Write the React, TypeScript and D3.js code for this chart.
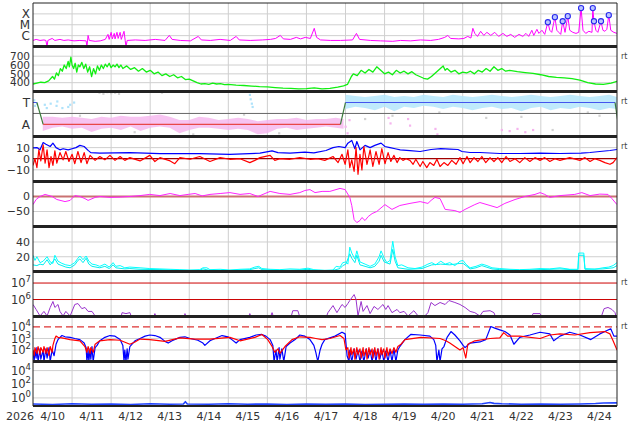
import React, { useEffect, useRef } from 'react';
import * as d3 from 'd3';

type Pt = [number, number];
type Band = [number, number, number];

// time is given in days after 2026-04-10 00:00 UTC
const START = Date.UTC(2026, 3, 10);
const DAY = 86400000;
const SPAN_DAYS = 14.95;

const yearLabel = '2026';
const dayLabels = ['4/10', '4/11', '4/12', '4/13', '4/14', '4/15', '4/16', '4/17', '4/18', '4/19', '4/20', '4/21', '4/22', '4/23', '4/24'];

// GOES X-ray flux (W/m2)
const xrayFlux: Pt[] = [
  [0, 3.6e-7], [0.08, 4.5e-7], [0.18, 3.6e-7], [0.28, 4e-7], [0.33, 3.6e-7], [0.36, 9e-8], [0.38, 3.6e-7],
  [0.49, 5.5e-7], [0.56, 3.6e-7], [0.69, 4.5e-7], [0.79, 3.6e-7], [0.9, 4e-7], [1.05, 3.3e-7], [1.2, 3.6e-7],
  [1.36, 3.3e-7], [1.38, 9e-8], [1.41, 1.05e-6], [1.44, 3.6e-7], [1.59, 3e-7], [1.72, 3.3e-7], [1.85, 4.5e-7],
  [1.92, 1.3e-6], [1.95, 4.5e-7], [2.0, 2e-6], [2.03, 5e-7], [2.08, 1.6e-6], [2.1, 5e-7], [2.15, 2e-6],
  [2.18, 5.5e-7], [2.23, 2e-6], [2.26, 4.5e-7], [2.33, 2.5e-6], [2.36, 3.6e-7], [2.38, 9e-8], [2.41, 3.6e-7],
  [2.62, 4e-7], [2.87, 3.6e-7], [3.13, 4.5e-7], [3.38, 3.6e-7], [3.49, 1.05e-6], [3.56, 4.5e-7], [3.77, 3.6e-7],
  [4.03, 3.3e-7], [4.23, 8.5e-7], [4.31, 4e-7], [4.54, 3.6e-7], [4.79, 4.5e-7], [5.05, 3.6e-7], [5.2, 8.5e-7],
  [5.28, 4e-7], [5.56, 3.6e-7], [5.87, 4e-7], [6.08, 4.5e-7], [6.21, 5.5e-7], [6.33, 1.05e-6], [6.41, 5e-7],
  [6.59, 4.5e-7], [6.74, 6.9e-7], [6.85, 5e-7], [6.97, 6.9e-7], [7.1, 5.5e-7], [7.2, 4.7e-6], [7.26, 6.9e-7],
  [7.36, 4e-7], [7.62, 3.6e-7], [7.87, 3.6e-7], [8.18, 4e-7], [8.28, 1.6e-6], [8.36, 4.5e-7], [8.64, 3.6e-7],
  [8.9, 3.3e-7], [9.21, 3e-7], [9.41, 3.6e-7], [9.67, 3.3e-7], [9.92, 4e-7], [10.18, 3.6e-7], [10.38, 4.5e-7],
  [10.54, 6.9e-7], [10.62, 1.05e-6], [10.69, 5.5e-7], [10.9, 5e-7], [11.03, 5.5e-7], [11.13, 8.5e-7], [11.21, 6e-7],
  [11.26, 4.7e-6], [11.31, 1.6e-6], [11.38, 8.5e-7], [11.46, 2.5e-6], [11.54, 1.05e-6], [11.62, 2e-6], [11.72, 1.05e-6],
  [11.82, 2e-6], [11.92, 8.5e-7], [12.03, 1.6e-6], [12.13, 8.5e-7], [12.23, 1.3e-6], [12.33, 6.9e-7], [12.44, 1.3e-6],
  [12.54, 8.5e-7], [12.62, 1.6e-6], [12.69, 8.5e-7], [12.77, 3.1e-6], [12.82, 1.05e-6], [12.9, 3.8e-6], [12.95, 1.6e-6],
  [13.03, 3.1e-6], [13.1, 1.3e-6], [13.18, 1.7e-5], [13.23, 3.1e-6], [13.28, 2e-6], [13.36, 5e-5], [13.41, 3.1e-6],
  [13.46, 2e-6], [13.51, 1.3e-6], [13.56, 2.1e-5], [13.62, 2e-6], [13.69, 6.2e-5], [13.74, 3.1e-6], [13.82, 2e-6],
  [13.9, 1.6e-6], [13.97, 2e-6], [14.03, 3.4e-4], [14.08, 3.1e-6], [14.15, 1.6e-6], [14.23, 2.5e-6], [14.31, 2e-6],
  [14.33, 3.4e-4], [14.36, 2.1e-5], [14.41, 3.1e-6], [14.46, 2e-6], [14.54, 2.1e-5], [14.59, 3.1e-6], [14.64, 2.5e-6],
  [14.69, 3.8e-6], [14.74, 7.6e-5], [14.79, 3.1e-6], [14.87, 2e-6], [14.95, 1.6e-6],
];

const flareMarks: Pt[] = [
  [13.18, 1.7e-5], [13.36, 5e-5], [13.56, 2.1e-5], [13.69, 6.2e-5], [14.03, 3.4e-4],
  [14.33, 3.4e-4], [14.36, 2.1e-5], [14.54, 2.1e-5], [14.74, 7.6e-5],
];

// solar wind speed (km/s)
const windSpeed: Pt[] = [
  [0, 385], [0.1, 395], [0.2, 405], [0.3, 400], [0.4, 420], [0.5, 470], [0.55, 440], [0.6, 510], [0.65, 480],
  [0.7, 560], [0.75, 530], [0.8, 600], [0.85, 560], [0.9, 640], [0.93, 580], [0.97, 690], [1.0, 600], [1.04, 560],
  [1.08, 620], [1.12, 520], [1.16, 600], [1.2, 580], [1.25, 630], [1.3, 560], [1.35, 610], [1.4, 520], [1.45, 580],
  [1.5, 470], [1.55, 560], [1.6, 500], [1.65, 590], [1.7, 540], [1.75, 600], [1.8, 560], [1.85, 610], [1.9, 580],
  [1.95, 620], [2.0, 570], [2.05, 600], [2.1, 580], [2.15, 610], [2.2, 570], [2.25, 600], [2.3, 560], [2.4, 590],
  [2.5, 550], [2.6, 570], [2.7, 530], [2.8, 560], [2.9, 520], [3.0, 540], [3.1, 500], [3.2, 520], [3.3, 480],
  [3.4, 500], [3.5, 470], [3.6, 490], [3.7, 455], [3.8, 470], [3.9, 435], [4.0, 440], [4.1, 420], [4.2, 400],
  [4.3, 385], [4.4, 390], [4.5, 380], [4.6, 395], [4.7, 385], [4.8, 390], [4.9, 378], [5.0, 380], [5.2, 372],
  [5.4, 368], [5.6, 362], [5.8, 355], [6.0, 352], [6.2, 345], [6.4, 338], [6.6, 335], [6.8, 330], [7.0, 332],
  [7.2, 342], [7.4, 330], [7.6, 335], [7.8, 350], [7.95, 365], [8.05, 380], [8.15, 470], [8.2, 500], [8.3, 480],
  [8.4, 540], [8.5, 510], [8.6, 550], [8.7, 520], [8.8, 580], [8.9, 540], [9.0, 500], [9.1, 520], [9.2, 490],
  [9.3, 540], [9.4, 510], [9.5, 530], [9.6, 500], [9.7, 525], [9.8, 490], [9.9, 470], [10.0, 450], [10.1, 440],
  [10.2, 470], [10.3, 510], [10.4, 550], [10.5, 590], [10.55, 540], [10.6, 560], [10.7, 520], [10.8, 540],
  [10.9, 500], [11.0, 520], [11.1, 510], [11.2, 530], [11.3, 500], [11.4, 540], [11.5, 520], [11.6, 560],
  [11.7, 530], [11.8, 580], [11.9, 540], [12.0, 560], [12.1, 530], [12.2, 540], [12.4, 525], [12.6, 515],
  [12.8, 505], [13.0, 490], [13.2, 470], [13.4, 460], [13.6, 455], [13.8, 445], [14.0, 430], [14.2, 400],
  [14.4, 385], [14.6, 380], [14.8, 395], [14.95, 415],
];

// IMF sector: +1 toward, -1 away
const sectorLine: Pt[] = [[0, 1], [0.1, 1], [0.26, -1], [7.87, -1], [8.0, 1], [14.9, 1], [14.97, -0.7]];

const awayBand: Band[] = [
  [0.25, -0.3, -1.6], [0.5, -0.3, -1.3], [0.75, -0.4, -1.2], [1.0, -0.3, -1.4], [1.25, -0.4, -1.3],
  [1.5, -0.5, -1.7], [1.75, -0.3, -1.4], [2.0, -0.4, -1.3], [2.25, -0.2, -1.5], [2.5, -0.3, -1.2],
  [2.75, -0.3, -1.6], [3.0, -0.2, -1.3], [3.25, -0.1, -1.2], [3.5, -0.3, -1.3], [3.75, -0.6, -1.8],
  [4.0, -0.6, -1.5], [4.25, -0.3, -1.3], [4.5, -0.4, -1.3], [4.75, -0.6, -1.4], [5.0, -0.5, -1.5],
  [5.25, -0.4, -1.4], [5.5, -0.5, -1.5], [5.75, -0.7, -1.9], [6.0, -0.6, -1.8], [6.25, -0.5, -1.4],
  [6.5, -0.5, -1.3], [6.75, -0.4, -1.5], [7.0, -0.6, -1.4], [7.25, -0.5, -1.3], [7.5, -0.5, -1.2],
  [7.75, -0.4, -1.3], [7.95, -0.5, -1.4],
];

const towardBand: Band[] = [
  [8.0, 1.7, 0.4], [8.25, 1.6, 0.6], [8.5, 1.5, 0.5], [8.75, 1.6, 0.3], [9.0, 1.7, 0.6], [9.25, 1.5, 0.2],
  [9.5, 1.6, 0.6], [9.75, 1.5, 0.5], [10.0, 1.7, 0.7], [10.25, 1.6, 0.6], [10.5, 1.5, 0.4], [10.75, 1.7, 0.6],
  [11.0, 1.6, 0.5], [11.25, 1.5, 0.3], [11.5, 1.6, 0.5], [11.75, 1.7, 0.6], [12.0, 1.6, 0.4], [12.25, 1.5, 0.5],
  [12.5, 1.6, 0.2], [12.75, 1.7, 0.5], [13.0, 1.6, 0.6], [13.25, 1.5, 0.3], [13.5, 1.6, 0.5], [13.75, 1.7, 0.4],
  [14.0, 1.6, 0.6], [14.25, 1.5, 0.5], [14.5, 1.6, 0.3], [14.75, 1.7, 0.5], [14.95, 1.5, 0.4],
];

const towardDots: Pt[] = [
  [0.03, 1.2], [0.05, 0.7], [0.1, 0.9], [0.3, 0.8], [0.35, 0.5], [0.45, 0.9], [0.6, 0.7], [0.62, 1.1],
  [0.75, 0.5], [0.9, 0.6], [0.95, 0.8], [1.05, 1.0], [5.55, 1.7], [5.57, 1.3], [5.6, 0.9], [5.62, 0.6],
];
const awayDots: Pt[] = [
  [8.0, -1.2], [8.05, -1.8], [8.1, -0.6], [9.1, -0.4], [9.15, -0.9], [9.6, -0.5], [9.65, -1.1],
  [10.3, -1.4], [10.35, -1.9], [12.0, -1.5], [12.2, -1.6], [12.4, -1.4], [12.6, -1.7], [12.8, -1.5],
];
const greyDots: Pt[] = [
  [1.7, 1.9], [1.8, 1.8], [1.9, 1.95], [2.0, 1.85], [2.1, 1.9], [2.2, 1.8], [3.3, 1.9], [1.2, -0.2],
  [2.6, -1.7], [4.1, -1.9], [5.4, -0.1], [6.3, -1.8], [8.5, -0.5], [9.2, -0.2], [10.4, 0.1], [11.6, -0.4],
  [12.5, -0.3], [13.3, -1.5], [14.5, -0.2], [14.2, 0.1],
];

// IMF Bt and Bz (nT)
const imfBt: Pt[] = [
  [0, 9.8], [0.1, 10], [0.18, 8], [0.26, 14.5], [0.33, 13], [0.44, 11], [0.51, 14], [0.59, 10], [0.69, 8],
  [0.77, 9], [0.9, 8], [1.0, 9], [1.1, 10], [1.2, 12], [1.31, 11], [1.41, 7.5], [1.48, 5.5], [1.71, 5],
  [2.48, 5.5], [3.25, 4.5], [4.27, 4.5], [5.04, 4], [5.81, 5], [6.12, 7], [6.27, 5.5], [6.58, 5], [6.96, 6],
  [7.19, 5.3], [7.5, 7.4], [7.68, 10], [7.83, 11], [7.99, 10], [8.06, 14], [8.16, 16.5], [8.24, 9], [8.29, 15.5],
  [8.37, 8], [8.5, 12], [8.63, 10], [8.75, 12], [8.91, 14], [9.01, 11], [9.14, 10], [9.27, 9], [9.4, 8],
  [9.65, 7.3], [9.91, 6.5], [10.19, 8.3], [10.44, 9], [10.67, 8.7], [10.88, 8.3], [10.98, 6.5], [11.19, 5.6],
  [11.44, 5.6], [11.95, 4.7], [12.46, 4.7], [12.98, 5.1], [13.49, 4.7], [14.03, 5], [14.26, 5.6], [14.51, 6.5],
  [14.77, 7.4], [14.95, 8.3],
];

const imfBz: Pt[] = [
  [0, -6], [0.05, 0], [0.1, -8], [0.15, 8], [0.2, -2], [0.26, 12.5], [0.31, -4], [0.36, 8], [0.41, -8],
  [0.46, 2], [0.51, -6], [0.56, 7], [0.61, -4], [0.69, 5.5], [0.77, -1], [0.84, 6.5], [0.92, -2.5], [1.0, 4],
  [1.07, -4.5], [1.15, 6.5], [1.23, -3.5], [1.31, 5.5], [1.38, -4.5], [1.46, 3], [1.59, -1.5], [1.71, 2],
  [1.84, -1], [1.97, 3], [2.1, -1.5], [2.23, 2], [2.35, -1.5], [2.48, 1], [2.74, -2], [2.99, 3], [3.12, -2.5],
  [3.25, 1], [3.51, -2], [3.63, -4.5], [3.76, 1], [4.02, -0.5], [4.27, 2], [4.53, -2.5], [4.79, 1], [5.04, -0.5],
  [5.3, 0], [5.55, -3.5], [5.68, -1.5], [5.81, 1], [6.07, 3], [6.19, -1.5], [6.32, 0], [6.58, -0.5], [6.83, 1],
  [7.09, -0.5], [7.29, 0], [7.47, -1.5], [7.68, 2], [7.81, -3.5], [7.91, 4], [7.99, -5], [8.06, 8], [8.11, -8],
  [8.16, -1], [8.22, -11.5], [8.27, 10], [8.32, -14], [8.37, 4], [8.42, -10], [8.47, 11], [8.55, -5], [8.63, 8],
  [8.7, -7], [8.78, 6.5], [8.86, -5], [8.93, 9], [9.01, -4.5], [9.09, 5.5], [9.16, -2.5], [9.24, 3], [9.32, -3.5],
  [9.39, 1], [9.47, -1.5], [9.55, 0], [9.65, -1.5], [9.73, -5], [9.8, -0.5], [9.91, -7], [9.98, -2.5], [10.08, -8],
  [10.16, -3.5], [10.26, -6], [10.34, -0.5], [10.42, -7], [10.52, -3.5], [10.62, -6], [10.72, -1.5], [10.83, -5],
  [10.93, 1], [11.01, -4.5], [11.11, 2], [11.19, -3.5], [11.29, 1], [11.39, -2.5], [11.49, 2], [11.59, -3.5],
  [11.7, 1], [11.8, -2.5], [11.9, 1], [12.0, -3.5], [12.11, 2], [12.21, -2.5], [12.34, 0], [12.46, -3.5],
  [12.59, 1], [12.72, -2.5], [12.85, 1], [12.98, -1.5], [13.1, 1], [13.23, -2.5], [13.36, 0], [13.49, -1.5],
  [13.74, 1], [14.0, -1.5], [14.13, 1], [14.26, -2.5], [14.38, 0], [14.51, -1.5], [14.64, -3.5], [14.77, -5],
  [14.85, -3.5], [14.95, 1],
];

// Dst index (nT)
const dstIndex: Pt[] = [
  [0, -27], [0.08, -10], [0.18, 0], [0.31, 7], [0.49, 0], [0.61, -10], [0.82, -17], [0.95, -13], [1.07, 3],
  [1.2, 0], [1.33, -7], [1.41, -13], [1.59, -3], [1.71, 0], [1.97, -3], [2.23, -2], [2.48, 0], [2.74, 3],
  [2.99, 7], [3.25, 3], [3.51, 10], [3.76, 3], [3.97, 7], [4.15, 10], [4.33, 2], [4.53, 7], [4.79, 10],
  [5.04, 13], [5.3, 7], [5.55, 10], [5.76, 0], [5.94, 10], [6.07, 17], [6.32, 10], [6.58, 7], [6.83, 13],
  [6.96, 20], [7.09, 23], [7.22, 13], [7.4, 17], [7.6, 17], [7.86, 27], [7.99, 23], [8.11, -3], [8.16, -30],
  [8.22, -77], [8.29, -87], [8.37, -80], [8.42, -70], [8.5, -80], [8.58, -67], [8.68, -57], [8.8, -50],
  [9.01, -27], [9.19, -43], [9.39, -30], [9.65, -23], [9.91, -17], [10.11, -23], [10.19, -13], [10.29, -3],
  [10.42, -7], [10.55, -43], [10.8, -47], [10.93, -53], [11.06, -43], [11.31, -27], [11.44, -20], [11.7, -30],
  [11.88, -37], [12.08, -23], [12.34, -10], [12.59, 0], [12.85, 7], [12.98, 13], [13.1, 7], [13.23, -3],
  [13.49, 3], [13.87, 7], [14.05, 13], [14.26, 3], [14.51, 8], [14.72, 7], [14.82, -7], [14.95, -27],
];

// activity index, two estimates
const activityA: Pt[] = [
  [0, 22], [0.05, 15], [0.1, 20], [0.18, 12], [0.26, 14], [0.36, 20], [0.44, 13], [0.51, 11], [0.56, 22],
  [0.64, 14], [0.74, 11], [0.84, 9], [0.95, 8], [1.07, 12], [1.15, 18], [1.2, 21], [1.28, 16], [1.36, 21],
  [1.43, 14], [1.51, 10], [1.61, 9], [1.71, 7], [1.84, 10], [1.95, 6], [2.05, 12], [2.12, 7], [2.23, 8],
  [2.35, 5], [2.48, 6], [2.74, 5], [2.99, 4], [3.25, 3.5], [3.51, 3], [3.76, 2.5], [4.02, 2], [4.27, 2.5],
  [4.35, 5], [4.45, 5], [4.53, 2.5], [4.79, 3], [5.04, 2], [5.3, 3], [5.55, 3.5], [5.68, 6], [5.78, 7],
  [5.86, 4], [6.07, 3], [6.32, 2.5], [6.58, 3.5], [6.83, 3], [7.04, 4.5], [7.19, 2.5], [7.47, 1.5], [7.68, 2],
  [7.76, 7], [7.86, 6], [7.93, 12], [8.01, 13], [8.06, 10], [8.11, 33], [8.16, 25], [8.24, 17], [8.29, 28],
  [8.37, 13], [8.5, 10], [8.63, 7], [8.75, 10], [8.86, 20], [8.91, 28], [8.99, 18], [9.06, 12], [9.14, 15],
  [9.21, 41], [9.27, 20], [9.34, 8], [9.44, 9], [9.6, 5], [9.78, 4], [9.96, 6], [10.11, 10], [10.21, 12],
  [10.31, 9], [10.44, 14], [10.55, 10], [10.67, 12], [10.8, 8], [10.93, 14], [11.01, 15], [11.08, 10],
  [11.19, 5], [11.34, 7], [11.49, 10], [11.62, 8], [11.75, 5], [11.95, 4], [12.21, 3], [12.46, 2.5],
  [12.72, 3], [12.98, 4], [13.23, 3.5], [13.49, 5], [13.74, 3], [13.95, 3], [13.97, 25], [14.1, 25],
  [14.13, 4], [14.38, 3], [14.59, 5], [14.74, 6], [14.85, 8], [14.95, 12],
];
const activityB: Pt[] = [
  [0, 9], [0.1, 8], [0.18, 10], [0.26, 9], [0.36, 16], [0.44, 9], [0.56, 17], [0.64, 10], [0.74, 8],
  [0.84, 6], [0.95, 5], [1.07, 9], [1.15, 15], [1.2, 17], [1.28, 12], [1.36, 18], [1.43, 10], [1.51, 7],
  [1.71, 5], [1.84, 7], [1.95, 4], [2.05, 9], [2.12, 5], [2.35, 3.5], [2.48, 4], [2.74, 3], [3.25, 2.5],
  [3.76, 1.5], [4.27, 1.5], [4.35, 3.5], [4.53, 1.5], [5.04, 1.5], [5.55, 2.5], [5.68, 4], [5.78, 5],
  [5.86, 2.5], [6.32, 1.5], [6.83, 2], [7.04, 3], [7.19, 1.5], [7.68, 1.5], [7.86, 4], [7.93, 8], [8.01, 10],
  [8.11, 24], [8.16, 18], [8.24, 12], [8.29, 22], [8.37, 9], [8.5, 7], [8.63, 5], [8.75, 7], [8.86, 14],
  [8.91, 22], [8.99, 13], [9.14, 10], [9.21, 30], [9.27, 14], [9.34, 5], [9.6, 3], [9.96, 4], [10.11, 7],
  [10.21, 9], [10.44, 10], [10.67, 9], [10.93, 11], [11.01, 11], [11.19, 3.5], [11.34, 5], [11.49, 8],
  [11.75, 3.5], [11.95, 2.5], [12.46, 1.5], [12.98, 2.5], [13.49, 3.5], [13.95, 2], [13.97, 22], [14.1, 22],
  [14.13, 3], [14.59, 3.5], [14.85, 5], [14.95, 8],
];

// electron fluence
const fluence: Pt[] = [
  [0, 5e5], [0.08, 2.5e5], [0.18, 1e5], [0.28, 1.9e5], [0.36, 1e5], [0.44, 3.3e5], [0.51, 7.6e5], [0.56, 3.3e5],
  [0.64, 5e5], [0.69, 1.9e5], [0.77, 1e5], [0.84, 1.9e5], [0.95, 1e5], [1.07, 5e5], [1.15, 5.7e5], [1.25, 2.8e5],
  [1.33, 3.3e5], [1.41, 1.9e5], [1.51, 1.9e5], [1.59, 1e5], [1.66, 5e4], [2.23, 5e4], [2.28, 1.6e5], [2.38, 1.4e5],
  [2.48, 1.6e5], [2.56, 5e4], [3.05, 5e4], [3.12, 1.4e5], [3.2, 5e4], [3.84, 5e4], [3.89, 1.4e5], [3.97, 5e4],
  [5.48, 5e4], [5.55, 1.4e5], [5.63, 5e4], [6.04, 5e4], [6.12, 1.6e5], [6.19, 5e4], [6.58, 5e4], [6.65, 2.1e5],
  [6.78, 2.1e5], [6.86, 5e4], [7.47, 5e4], [7.55, 1.6e5], [7.68, 4.3e5], [7.78, 1.6e5], [7.91, 5e5], [7.99, 3.3e5],
  [8.06, 5.7e5], [8.11, 8.7e5], [8.22, 2e6], [8.27, 1e6], [8.32, 1e5], [8.4, 7.6e5], [8.45, 1.9e5], [8.55, 4.3e5],
  [8.63, 1.4e5], [8.73, 3.8e5], [8.83, 2.5e5], [8.96, 5e5], [9.03, 2.5e5], [9.09, 4.3e5], [9.19, 1.6e5],
  [9.32, 2.5e5], [9.39, 1.6e5], [9.5, 1.9e5], [9.6, 1e5], [9.75, 2.1e5], [9.86, 1e5], [10.03, 1e5], [10.11, 1.6e5],
  [10.19, 6.6e5], [10.29, 4.3e5], [10.42, 6.6e5], [10.55, 5e5], [10.65, 8.7e5], [10.8, 6.6e5], [10.93, 5e5],
  [11.06, 3.3e5], [11.19, 1.9e5], [11.31, 1.6e5], [11.44, 1e5], [11.52, 1.9e5], [11.7, 2.1e5], [11.8, 1.6e5],
  [11.88, 5e4], [12.72, 5e4], [12.8, 1.4e5], [12.98, 1.4e5], [13.1, 5e4], [14.51, 5e4], [14.62, 2.8e5],
  [14.72, 3.3e5], [14.82, 2.5e5], [14.9, 1.6e5], [14.95, 5e4],
];

// electron flux, two energy channels
const electronBlue: Pt[] = [
  [0, 63], [0.03, 10], [0.05, 100], [0.08, 20], [0.1, 160], [0.13, 10], [0.18, 126], [0.2, 16], [0.26, 100],
  [0.28, 10], [0.33, 126], [0.36, 20], [0.41, 160], [0.44, 10], [0.49, 100], [0.54, 32], [0.59, 316], [0.64, 800],
  [0.69, 1260], [0.74, 1800], [0.82, 1400], [0.95, 1260], [1.07, 1000], [1.2, 800], [1.31, 400], [1.36, 160],
  [1.38, 10], [1.41, 100], [1.43, 10], [1.46, 126], [1.48, 16], [1.51, 200], [1.54, 10], [1.59, 160], [1.64, 250],
  [1.71, 630], [1.84, 1260], [1.97, 1800], [2.1, 1600], [2.23, 800], [2.3, 250], [2.33, 10], [2.35, 100],
  [2.38, 10], [2.41, 126], [2.43, 16], [2.48, 200], [2.61, 630], [2.74, 1000], [2.87, 1600], [2.99, 2000],
  [3.12, 1800], [3.25, 1260], [3.38, 560], [3.46, 400], [3.56, 630], [3.76, 1260], [3.89, 1400], [4.02, 1000],
  [4.22, 700], [4.35, 400], [4.4, 250], [4.53, 630], [4.66, 1000], [4.84, 1800], [4.99, 1400], [5.09, 800],
  [5.2, 400], [5.3, 800], [5.55, 1260], [5.71, 2000], [5.86, 2240], [5.96, 1600], [6.07, 800], [6.14, 250],
  [6.17, 10], [6.22, 100], [6.25, 10], [6.3, 160], [6.32, 16], [6.37, 126], [6.42, 10], [6.48, 200], [6.58, 400],
  [6.71, 800], [6.83, 2000], [6.96, 1600], [7.09, 800], [7.19, 250], [7.24, 63], [7.29, 10], [7.35, 100],
  [7.4, 316], [7.47, 800], [7.73, 1600], [7.91, 3500], [7.99, 2500], [8.04, 32], [8.09, 10], [8.11, 100],
  [8.16, 10], [8.22, 126], [8.27, 16], [8.32, 100], [8.37, 10], [8.42, 80], [8.47, 10], [8.53, 126], [8.58, 20],
  [8.63, 100], [8.68, 10], [8.73, 100], [8.78, 10], [8.83, 126], [8.88, 16], [8.93, 100], [8.98, 10], [9.03, 80],
  [9.09, 10], [9.14, 100], [9.19, 10], [9.24, 126], [9.29, 10], [9.34, 100], [9.39, 200], [9.52, 800],
  [9.67, 2240], [9.91, 2000], [10.16, 1600], [10.26, 800], [10.31, 250], [10.34, 10], [10.39, 100], [10.42, 10],
  [10.47, 126], [10.52, 200], [10.6, 1260], [10.7, 4000], [10.8, 2000], [10.93, 630], [11.01, 250], [11.06, 160],
  [11.19, 400], [11.44, 500], [11.59, 800], [11.72, 11000], [11.82, 8000], [11.95, 5600], [12.08, 4000],
  [12.21, 2000], [12.31, 316], [12.46, 1260], [12.72, 2000], [12.98, 3500], [13.23, 2500], [13.33, 630],
  [13.49, 1600], [13.74, 3500], [14.0, 2000], [14.28, 800], [14.51, 2500], [14.79, 7000], [14.87, 1600],
  [14.95, 1600],
];
const electronRed: Pt[] = [
  [0, 100], [0.03, 32], [0.05, 160], [0.1, 50], [0.13, 200], [0.18, 40], [0.2, 160], [0.26, 63], [0.28, 200],
  [0.33, 50], [0.36, 160], [0.41, 32], [0.44, 200], [0.49, 63], [0.51, 250], [0.56, 1000], [0.59, 1600],
  [0.64, 1260], [0.74, 1120], [0.95, 800], [1.2, 630], [1.33, 200], [1.38, 63], [1.41, 200], [1.46, 50],
  [1.48, 160], [1.54, 63], [1.59, 316], [1.71, 630], [1.97, 800], [2.23, 700], [2.48, 316], [2.61, 500],
  [2.74, 890], [2.99, 800], [3.38, 560], [3.76, 1120], [4.15, 890], [4.53, 890], [5.04, 1260], [5.3, 630],
  [5.68, 1260], [5.86, 2240], [6.01, 800], [6.12, 200], [6.19, 63], [6.27, 126], [6.32, 50], [6.45, 200],
  [6.63, 800], [6.83, 1400], [7.09, 1260], [7.24, 1000], [7.4, 800], [7.6, 1000], [7.86, 1800], [7.96, 1000],
  [8.01, 100], [8.06, 160], [8.09, 20], [8.14, 160], [8.16, 40], [8.22, 126], [8.24, 16], [8.29, 160], [8.32, 40],
  [8.37, 126], [8.4, 20], [8.45, 160], [8.47, 32], [8.53, 126], [8.55, 16], [8.6, 160], [8.63, 40], [8.68, 126],
  [8.7, 20], [8.75, 160], [8.78, 32], [8.83, 126], [8.86, 16], [8.91, 160], [8.93, 40], [8.98, 126], [9.01, 20],
  [9.06, 160], [9.09, 32], [9.14, 126], [9.19, 50], [9.24, 160], [9.29, 63], [9.34, 200], [9.42, 316], [9.52, 800],
  [9.93, 1260], [10.42, 1000], [10.57, 630], [10.67, 400], [10.8, 200], [10.93, 100], [11.01, 160], [11.08, 20],
  [11.13, 316], [11.31, 630], [11.7, 1000], [11.95, 1120], [12.05, 3200], [12.15, 1600], [12.46, 1600],
  [12.98, 1000], [13.23, 2000], [13.49, 2500], [13.87, 2000], [14.26, 3200], [14.64, 4000], [14.77, 2500],
  [14.85, 630], [14.95, 100],
];

// proton flux
const protonFlux: Pt[] = [
  [0, 0.13], [0.5, 0.11], [1, 0.14], [1.5, 0.12], [2, 0.13], [2.5, 0.11], [3, 0.14], [3.5, 0.12], [3.85, 0.13],
  [3.9, 0.28], [3.95, 0.13], [4.5, 0.12], [5, 0.14], [5.5, 0.12], [6, 0.13], [6.5, 0.11], [7, 0.13], [7.5, 0.12],
  [8, 0.13], [8.5, 0.11], [9, 0.12], [9.5, 0.13], [10, 0.12], [10.5, 0.13], [11, 0.12], [11.5, 0.14], [11.7, 0.22],
  [11.8, 0.16], [12, 0.14], [12.5, 0.12], [13, 0.13], [13.5, 0.12], [14, 0.13], [14.4, 0.15], [14.6, 0.18],
  [14.95, 0.19],
];

const W = 634;
const H = 424;
const LEFT = 33;
const RIGHT = 617;
const edges = [3, 46.5, 91.5, 136.5, 181.5, 226.5, 271.5, 316.5, 361.5, 406];
const FONT = '"DejaVu Sans", Verdana, sans-serif';

const App: React.FC = () => {
  const svgRef = useRef<SVGSVGElement>(null);

  useEffect(() => {
    if (!svgRef.current) return;
    const svg = d3.select(svgRef.current);
    svg.selectAll('*').remove();

    const x = d3.scaleUtc()
      .domain([new Date(START), new Date(START + SPAN_DAYS * DAY)])
      .range([LEFT, RIGHT]);
    const xd = (d: number) => x(new Date(START + d * DAY));

    const band = (i: number): [number, number] => [edges[i + 1], edges[i]];
    const yX = d3.scaleLog().domain([1e-7, 1e-3]).range(band(0));
    const ySpeed = d3.scaleLinear().domain([300, 810]).range(band(1));
    const ySector = d3.scaleLinear().domain([-2.1, 2]).range(band(2));
    const yImf = d3.scaleLinear().domain([-20.5, 20]).range(band(3));
    const yDst = d3.scaleLinear().domain([-100, 50]).range(band(4));
    const yAct = d3.scaleLinear().domain([0, 61]).range(band(5));
    const yFlu = d3.scaleLog().domain([Math.pow(10, 4.97), Math.pow(10, 7.7)]).range(band(6));
    const yEle = d3.scaleLog().domain([10, Math.pow(10, 4.91)]).range(band(7));
    const yPro = d3.scaleLog().domain([Math.pow(10, -1.18), Math.pow(10, 5.33)]).range(band(8));

    // clip paths, one per panel
    const defs = svg.append('defs');
    edges.slice(0, -1).forEach((top, i) => {
      defs.append('clipPath').attr('id', `clip${i}`)
        .append('rect')
        .attr('x', LEFT).attr('y', top)
        .attr('width', RIGHT - LEFT).attr('height', edges[i + 1] - top);
    });

    const grid = svg.append('g').attr('stroke', '#cfcfcf').attr('stroke-width', 1);
    // day grid
    d3.range(1, 15).forEach(d => {
      grid.append('line')
        .attr('x1', xd(d)).attr('x2', xd(d))
        .attr('y1', edges[0]).attr('y2', edges[9]);
    });

    const hline = (y: number, color = '#cfcfcf', width = 1) => {
      svg.append('line')
        .attr('x1', LEFT).attr('x2', RIGHT)
        .attr('y1', y).attr('y2', y)
        .attr('stroke', color).attr('stroke-width', width);
    };

    [1e-6, 1e-5, 1e-4].forEach(v => hline(yX(v)));
    [400, 500, 600, 700].forEach(v => hline(ySpeed(v)));
    [10, -10].forEach(v => hline(yImf(v)));
    hline(yDst(-50));
    [20, 40].forEach(v => hline(yAct(v)));
    [1e2, 1e3].forEach(v => hline(yEle(v)));
    [1, 1e2, 1e4].forEach(v => hline(yPro(v)));

    const panel = (i: number) => svg.append('g').attr('clip-path', `url(#clip${i})`);
    const drawLine = (g: any, data: Pt[], y: any, color: string, width = 1) => {
      g.append('path')
        .datum(data)
        .attr('fill', 'none')
        .attr('stroke', color)
        .attr('stroke-width', width)
        .attr('stroke-linejoin', 'round')
        .attr('d', d3.line<Pt>().x(d => xd(d[0])).y(d => y(d[1])));
    };

    // 1: X-ray
    const p0 = panel(0);
    drawLine(p0, xrayFlux, yX, '#ff00ff', 1);
    p0.selectAll('circle').data(flareMarks).enter().append('circle')
      .attr('cx', d => xd(d[0])).attr('cy', d => yX(d[1])).attr('r', 2.6)
      .attr('fill', '#b8c4ff').attr('stroke', '#2a2aee').attr('stroke-width', 1.1);

    // 2: speed
    drawLine(panel(1), windSpeed, ySpeed, '#11ee11', 1.3);

    // 3: sector
    const p2 = panel(2);
    const area = d3.area<Band>().x(d => xd(d[0])).y0(d => ySector(d[2])).y1(d => ySector(d[1]));
    p2.append('path').datum(awayBand).attr('fill', '#f5b4ee').attr('opacity', 0.8).attr('d', area);
    p2.append('path').datum(towardBand).attr('fill', '#b4e6fb').attr('opacity', 0.85).attr('d', area);
    const dots = (data: Pt[], color: string) => {
      p2.append('g').selectAll('rect').data(data).enter().append('rect')
        .attr('x', d => xd(d[0]) - 1).attr('y', d => ySector(d[1]) - 1)
        .attr('width', 2.2).attr('height', 2.2).attr('fill', color);
    };
    dots(greyDots, '#d2d2d2');
    dots(towardDots, '#aee2fa');
    dots(awayDots, '#f5b4ee');
    p2.append('line').attr('x1', LEFT).attr('x2', RIGHT)
      .attr('y1', ySector(0)).attr('y2', ySector(0))
      .attr('stroke', '#666').attr('stroke-width', 1);
    d3.pairs(sectorLine).forEach(([a, b]) => {
      const color = a[1] === b[1] ? (a[1] > 0 ? '#4455ee' : '#e84848') : '#3b7a3b';
      p2.append('line')
        .attr('x1', xd(a[0])).attr('y1', ySector(a[1]))
        .attr('x2', xd(b[0])).attr('y2', ySector(b[1]))
        .attr('stroke', color).attr('stroke-width', 1.2);
    });

    // 4: IMF
    const p3 = panel(3);
    p3.append('line').attr('x1', LEFT).attr('x2', RIGHT)
      .attr('y1', yImf(0)).attr('y2', yImf(0))
      .attr('stroke', '#a00000').attr('stroke-width', 1.2);
    drawLine(p3, imfBt, yImf, '#0000ff', 1.2);
    drawLine(p3, imfBz, yImf, '#ff0000', 1.2);

    // 5: Dst
    const p4 = panel(4);
    p4.append('line').attr('x1', LEFT).attr('x2', RIGHT)
      .attr('y1', yDst(0)).attr('y2', yDst(0))
      .attr('stroke', '#c97272').attr('stroke-width', 2.2);
    drawLine(p4, dstIndex, yDst, '#ff22ff', 1);

    // 6: activity
    const p5 = panel(5);
    drawLine(p5, activityB, yAct, '#00eeee', 1);
    drawLine(p5, activityA, yAct, '#00ffff', 1);

    // 7: fluence
    const p6 = panel(6);
    [1e6, 1e7].forEach(v => p6.append('line').attr('x1', LEFT).attr('x2', RIGHT)
      .attr('y1', yFlu(v)).attr('y2', yFlu(v)).attr('stroke', '#cc0000').attr('stroke-width', 1));
    drawLine(p6, fluence, yFlu, '#9933cc', 1);

    // 8: electrons
    const p7 = panel(7);
    p7.append('line').attr('x1', LEFT).attr('x2', RIGHT)
      .attr('y1', yEle(1e4)).attr('y2', yEle(1e4))
      .attr('stroke', '#dd3333').attr('stroke-width', 1.2).attr('stroke-dasharray', '7,4');
    drawLine(p7, electronBlue, yEle, '#0000ff', 1.2);
    drawLine(p7, electronRed, yEle, '#ff0000', 1.2);

    // 9: protons
    const p8 = panel(8);
    drawLine(p8, protonFlux, yPro, '#2244ff', 1.6);

    // frame
    const frame = svg.append('g').attr('stroke', '#222');
    frame.append('line').attr('x1', LEFT).attr('x2', RIGHT).attr('y1', edges[0]).attr('y2', edges[0]).attr('stroke-width', 1);
    edges.slice(1, -1).forEach(e => {
      frame.append('line').attr('x1', LEFT).attr('x2', RIGHT).attr('y1', e).attr('y2', e).attr('stroke-width', 3);
    });
    frame.append('line').attr('x1', LEFT).attr('x2', RIGHT).attr('y1', edges[9]).attr('y2', edges[9]).attr('stroke-width', 2);
    frame.append('line').attr('x1', LEFT).attr('x2', LEFT).attr('y1', edges[0]).attr('y2', edges[9]).attr('stroke-width', 1);
    frame.append('line').attr('x1', RIGHT).attr('x2', RIGHT).attr('y1', edges[0]).attr('y2', edges[9]).attr('stroke-width', 1);

    // labels
    const labels = svg.append('g').attr('font-family', FONT).attr('fill', '#333');
    const left = (y: number, text: string, size = 11) => {
      labels.append('text').attr('x', 30).attr('y', y).attr('dy', '0.36em')
        .attr('text-anchor', 'end').attr('font-size', size).text(text);
    };
    const power = (y: number, exp: number) => {
      const t = labels.append('text').attr('x', 31).attr('y', y).attr('dy', '0.36em')
        .attr('text-anchor', 'end').attr('font-size', 11.5);
      t.append('tspan').text('10');
      t.append('tspan').attr('dy', -5).attr('font-size', 8.5).text(String(exp));
    };
    [['X', 1e-4], ['M', 1e-5], ['C', 1e-6]].forEach(([t, v]) => left(yX(v as number), t as string, 12));
    // the speed labels sit closer than their height, as in the original
    [700, 600, 500, 400].forEach(v => left(ySpeed(v), String(v), 10.5));
    left(ySector(1), 'T', 12);
    left(ySector(-1), 'A', 12);
    [[10, '10'], [0, '0'], [-10, '\u221210']].forEach(([v, t]) => left(yImf(v as number), t as string));
    [[0, '0'], [-50, '\u221250']].forEach(([v, t]) => left(yDst(v as number), t as string));
    [40, 20].forEach(v => left(yAct(v), String(v)));
    [7, 6].forEach(e => power(yFlu(Math.pow(10, e)), e));
    [4, 3, 2].forEach(e => power(yEle(Math.pow(10, e)), e));
    [4, 2, 0].forEach(e => power(yPro(Math.pow(10, e)), e));

    labels.append('text').attr('x', 20).attr('y', 416).attr('dy', '0.36em')
      .attr('text-anchor', 'middle').attr('font-size', 11).text(yearLabel);
    dayLabels.forEach((t, i) => {
      labels.append('text').attr('x', xd(i + 0.5)).attr('y', 416).attr('dy', '0.36em')
        .attr('text-anchor', 'middle').attr('font-size', 11).text(t);
    });

    [edges[1] + 10, edges[2] + 10, edges[3] + 10, edges[6] + 11, edges[7] + 10].forEach(y => {
      labels.append('text').attr('x', 621).attr('y', y).attr('dy', '0.36em')
        .attr('font-size', 8).attr('fill', '#444').text('rt');
    });
  }, []);

  return (
    <svg
      ref={svgRef}
      width={W}
      height={H}
      style={{ position: 'absolute', left: 0, top: 0, background: '#fff' }}
    />
  );
};

export default App;
